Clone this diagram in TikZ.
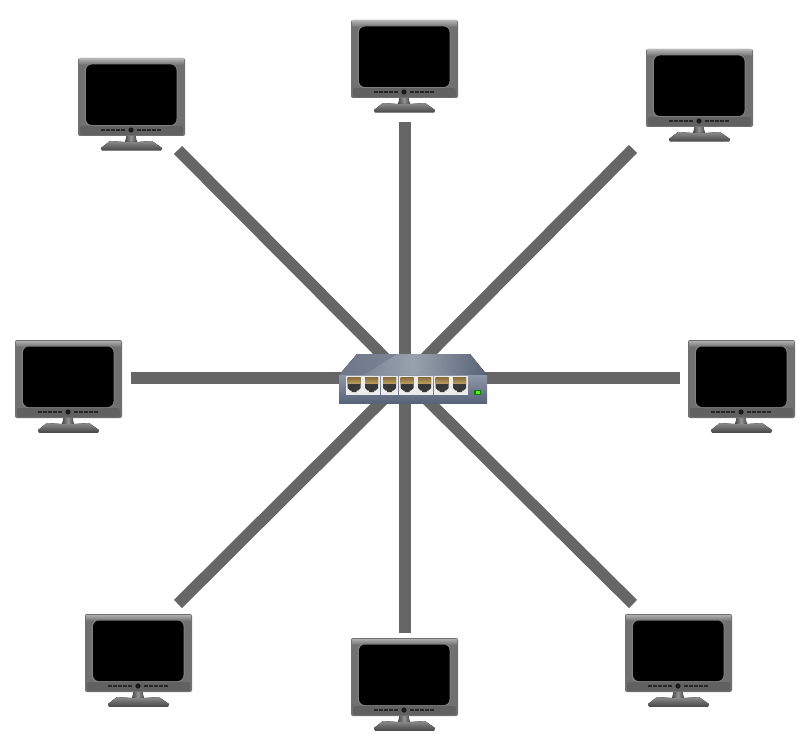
\documentclass[tikz,border=0pt]{standalone}
\usetikzlibrary{calc}
\definecolor{linkc}{HTML}{666666}
\definecolor{hubA}{HTML}{6E788A}
\definecolor{hubB}{HTML}{98A2AE}
\definecolor{hubC}{HTML}{596378}
\definecolor{hubD}{HTML}{8E98A8}
\definecolor{portT}{HTML}{8A6E3C}
\definecolor{portU}{HTML}{B89A5C}
\tikzset{
  x=1pt,y=-1pt,
  link/.style={draw=linkc,line width=11.5pt},
  monbox/.style={minimum width=107pt,minimum height=94pt,inner sep=0pt,outer sep=0pt},
  monitor/.pic={
    \begin{scope}[shift={(-53.5,-47)}]
      % stand
      \fill[left color=black!72,right color=black!72,middle color=black!42] (49,76) -- (57,76) -- (59,85) -- (47,85) -- cycle;
      \fill[top color=black!45,bottom color=black!72] (32,83) -- (47,84) -- (59,84) -- (74,83) -- (84,90) -- (83,92.5) -- (24,92.5) -- (23,90) -- cycle;
      % bezel
      \fill[rounded corners=2pt,black!56] (0,0) rectangle (107,78);
      \fill[top color=black!32,bottom color=black!56] (1,1) rectangle (106,7);
      \fill[rounded corners=2pt,black!62] (2,68) rectangle (105,77);
      \fill[rounded corners=7pt,black!50] (6.5,5.5) rectangle (99.5,68);
      \fill[rounded corners=6pt,black] (8,6.5) rectangle (98.5,67);
      % controls
      \foreach \i in {25,30,35,40,45,61,66,71,76,81}{\fill[black!85] (\i-1.7,71) rectangle (\i+1.7,73);}
      \fill[black!90] (53,72) circle (2.6pt);
    \end{scope}
  },
  port/.pic={
    \fill[white!85!gray] (-8.5,-9.5) rectangle (8.5,9.5);
    \fill[black!78] (-6.5,-7.5) -- (6.5,-7.5) -- (6.5,3) -- (4,5.5) -- (2.5,5.5) -- (2.5,7) -- (-2.5,7) -- (-2.5,5.5) -- (-4,5.5) -- (-6.5,3) -- cycle;
    \fill[top color=portT,bottom color=portU] (-6.5,-7.5) rectangle (6.5,-2);
  }
}
\begin{document}
\begin{tikzpicture}
\useasboundingbox (0,0) rectangle (810,738);
% named positions
\node[monbox] (tl) at (131.5,105) {};
\node[monbox] (tc) at (404.5,67) {};
\node[monbox] (tr) at (699.5,96) {};
\node[monbox] (ml) at (68.5,387) {};
\node[monbox] (mr) at (741.5,387) {};
\node[monbox] (bl) at (138.5,661) {};
\node[monbox] (bc) at (404.5,685) {};
\node[monbox] (br) at (678.5,661) {};
\coordinate (etl) at (178,150);
\coordinate (etc) at (405,122);
\coordinate (etr) at (633,149);
\coordinate (eml) at (131,378);
\coordinate (emr) at (680,378);
\coordinate (ebl) at (178,604);
\coordinate (ebc) at (405,633);
\coordinate (ebr) at (633,604);
\node[minimum width=148pt,minimum height=49pt,inner sep=0pt,outer sep=0pt] (hub) at (413,378.5) {};
\coordinate (hc) at (405,378);
% connectors
\foreach \e in {etl,etc,etr,eml,emr,ebl,ebc,ebr}{\draw[link] (hc) -- (\e);}
% monitors
\foreach \m in {tl,tc,tr,ml,mr,bl,bc,br}{\pic at (\m) {monitor};}
% hub
\begin{scope}[shift={(hub.north west)}]
  \fill[left color=hubA,right color=hubC,middle color=hubB] (18,0) -- (131,0) -- (148,21) -- (0,21) -- cycle;
  \fill[hubA,opacity=.6] (18,0) -- (58,0) -- (25,21) -- (0,21) -- cycle;
  \fill[top color=hubD,bottom color=hubC] (0,21) rectangle (148,49);
  \foreach \i in {15,32.5,50.5,68,85.5,103,120.5}{\pic at (\i,31) {port};}
  \fill[green!45!black!80!gray] (135,35.5) rectangle (142,40.5);
  \fill[green!75!yellow] (136.5,36.5) rectangle (140.5,39.5);
\end{scope}
\end{tikzpicture}
\end{document}
